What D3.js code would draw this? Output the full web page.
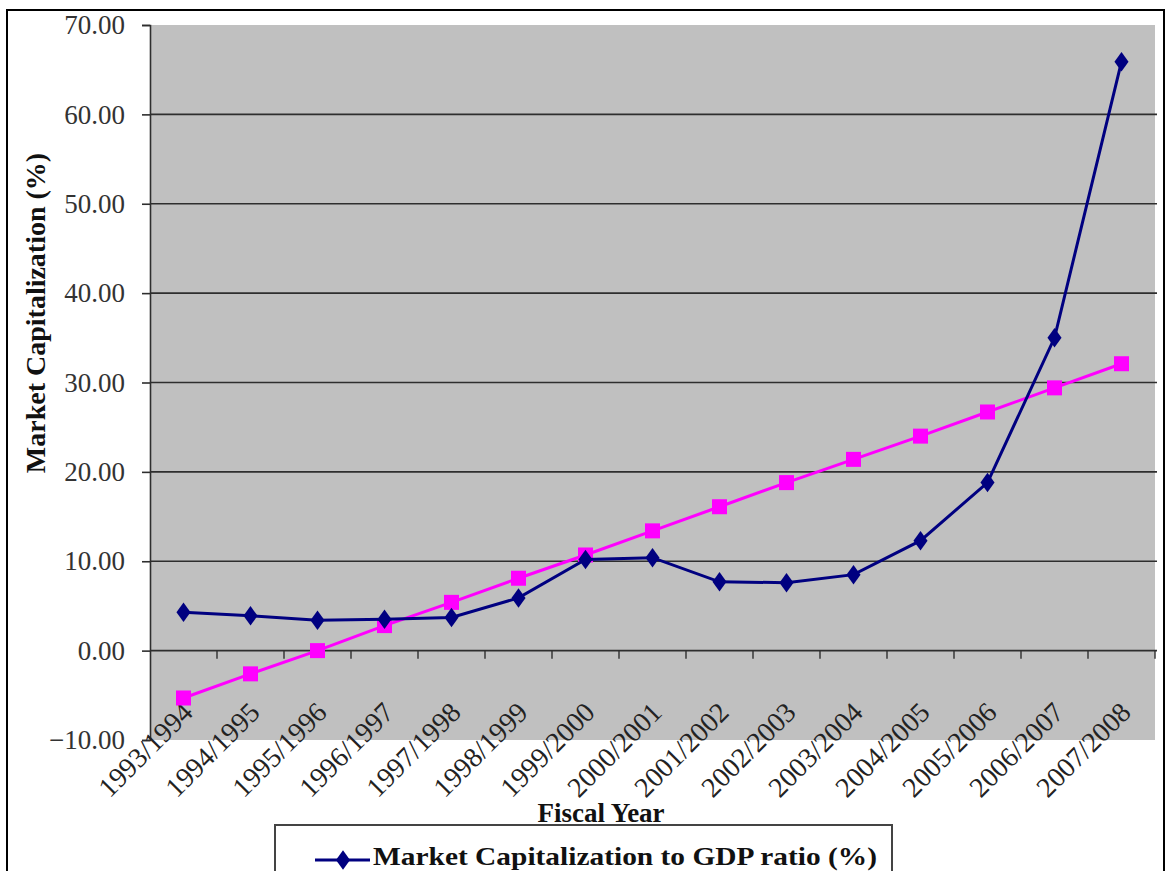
<!DOCTYPE html>
<html>
<head>
<meta charset="utf-8">
<script src="https://cdn.jsdelivr.net/npm/d3@7"></script>
<style>
  html, body { margin: 0; padding: 0; background: #fff; }
  svg { display: block; }
</style>
</head>
<body>
<div id="chart"></div>
<script>
// Market cap / GDP chart — blue series with diamonds, magenta trend with squares,
// Excel-style grey plot area, axis crossing at 0.

const fiscalYears = ['1993/1994', '1994/1995', '1995/1996', '1996/1997', '1997/1998',
  '1998/1999', '1999/2000', '2000/2001', '2001/2002', '2002/2003', '2003/2004',
  '2004/2005', '2005/2006', '2006/2007', '2007/2008'];

const marketCapRatio = [4.3, 3.9, 3.4, 3.5, 3.7, 5.9, 10.2, 10.4, 7.7, 7.6, 8.5, 12.3, 18.8, 35.0, 65.9];
const trendValues = [-5.3, -2.6, 0.0, 2.8, 5.4, 8.1, 10.7, 13.4, 16.1, 18.8, 21.4, 24.0, 26.7, 29.4, 32.1];

const yTicks = [-10, 0, 10, 20, 30, 40, 50, 60, 70];

const W = 1166, H = 871;
const COL = {
  plot: '#c0c0c0',
  grid: '#2e2e2e',
  blue: '#000080',
  pink: '#ff00ff',
  ink: '#111'
};
const SERIF = '"Liberation Serif", "Times New Roman", serif';

const plotL = 150, plotR = 1155, plotT = 25, plotB = 740;

const svg = d3.select('#chart').append('svg')
  .attr('width', W).attr('height', H)
  .attr('viewBox', `0 0 ${W} ${H}`);

svg.append('rect').attr('width', W).attr('height', H).attr('fill', '#fff');

// outer chart frame
svg.append('rect')
  .attr('x', 7).attr('y', 10)
  .attr('width', 1157).attr('height', 900)
  .attr('fill', 'none').attr('stroke', '#000').attr('stroke-width', 2);

const x = d3.scaleBand().domain(fiscalYears).range([plotL, plotR]);
const y = d3.scaleLinear().domain([-10, 70]).range([plotB, plotT]);

// plot area
svg.append('rect')
  .attr('x', plotL).attr('y', plotT)
  .attr('width', plotR - plotL).attr('height', plotB - plotT)
  .attr('fill', COL.plot);

// gridlines
svg.append('g').selectAll('line')
  .data(yTicks.filter(t => t > 0 && t < 70))
  .join('line')
  .attr('x1', plotL).attr('x2', plotR + 2)
  .attr('y1', d => y(d)).attr('y2', d => y(d))
  .attr('stroke', COL.grid).attr('stroke-width', 1.6);

// y axis
const yAxis = svg.append('g')
  .attr('transform', `translate(${plotL},0)`)
  .call(d3.axisLeft(y).tickValues(yTicks).tickFormat(d3.format('.2f')).tickSize(8).tickPadding(17));
yAxis.select('.domain').attr('stroke', COL.grid).attr('stroke-width', 1.6);
yAxis.selectAll('.tick line').attr('stroke', COL.grid).attr('stroke-width', 1.6);
yAxis.selectAll('.tick text')
  .attr('font-family', SERIF).attr('font-size', 27).attr('fill', '#333');

// x axis at 0
const xAxis = svg.append('g')
  .attr('transform', `translate(0,${y(0)})`);
xAxis.append('line')
  .attr('x1', plotL).attr('x2', plotR + 2)
  .attr('stroke', COL.grid).attr('stroke-width', 1.6);
xAxis.selectAll('line.tk')
  .data(fiscalYears.map(d => x(d)).slice(1).concat([plotR]))
  .join('line').attr('class', 'tk')
  .attr('x1', d => d).attr('x2', d => d)
  .attr('y1', 0).attr('y2', 8)
  .attr('stroke', COL.grid).attr('stroke-width', 1.4);

// category labels, rotated, end anchored near the bottom of the plot
svg.append('g').selectAll('text')
  .data(fiscalYears)
  .join('text')
  .attr('transform', d => `translate(${x(d) + x.bandwidth() / 2 + 11},${714}) rotate(-45)`)
  .attr('text-anchor', 'end')
  .attr('font-family', SERIF).attr('font-size', 28).attr('fill', '#222')
  .text(d => d);

const cx = d => x(d) + x.bandwidth() / 2;

// trend (magenta)
svg.append('path')
  .datum(trendValues)
  .attr('fill', 'none').attr('stroke', COL.pink).attr('stroke-width', 3)
  .attr('d', d3.line().x((d, i) => cx(fiscalYears[i])).y(d => y(d)));

svg.append('g').selectAll('rect')
  .data(trendValues)
  .join('rect')
  .attr('x', (d, i) => cx(fiscalYears[i]) - 7.5)
  .attr('y', d => y(d) - 7.5)
  .attr('width', 15).attr('height', 15)
  .attr('fill', COL.pink);

// market cap ratio (navy)
svg.append('path')
  .datum(marketCapRatio)
  .attr('fill', 'none').attr('stroke', COL.blue).attr('stroke-width', 3)
  .attr('d', d3.line().x((d, i) => cx(fiscalYears[i])).y(d => y(d)));

const diamond = d3.symbol().type(d3.symbolDiamond).size(110);
svg.append('g').selectAll('path')
  .data(marketCapRatio)
  .join('path')
  .attr('transform', (d, i) => `translate(${cx(fiscalYears[i])},${y(d)}) scale(1.25,1)`)
  .attr('d', diamond)
  .attr('fill', COL.blue);

// axis titles
svg.append('text')
  .attr('transform', 'translate(45,313) rotate(-90)')
  .attr('text-anchor', 'middle')
  .attr('font-family', SERIF).attr('font-size', 28).attr('font-weight', 'bold')
  .attr('fill', COL.ink)
  .text('Market Capitalization (%)');

svg.append('text')
  .attr('x', 601).attr('y', 822)
  .attr('text-anchor', 'middle')
  .attr('font-family', SERIF).attr('font-size', 27).attr('font-weight', 'bold')
  .attr('fill', COL.ink)
  .text('Fiscal Year');

// legend (cut off by the bottom of the picture)
const lg = svg.append('g');
lg.append('rect')
  .attr('x', 275).attr('y', 825)
  .attr('width', 617).attr('height', 80)
  .attr('fill', '#fff').attr('stroke', '#444').attr('stroke-width', 2);
lg.append('line')
  .attr('x1', 315).attr('x2', 370).attr('y1', 860).attr('y2', 860)
  .attr('stroke', COL.blue).attr('stroke-width', 3);
lg.append('path')
  .attr('transform', 'translate(343,860) scale(1.25,1)')
  .attr('d', diamond).attr('fill', COL.blue);
lg.append('text')
  .attr('x', 373).attr('y', 865)
  .attr('textLength', 504).attr('lengthAdjust', 'spacingAndGlyphs')
  .attr('font-family', SERIF).attr('font-size', 26).attr('font-weight', 'bold')
  .attr('fill', COL.ink)
  .text('Market Capitalization to GDP ratio (%)');
</script>
</body>
</html>
